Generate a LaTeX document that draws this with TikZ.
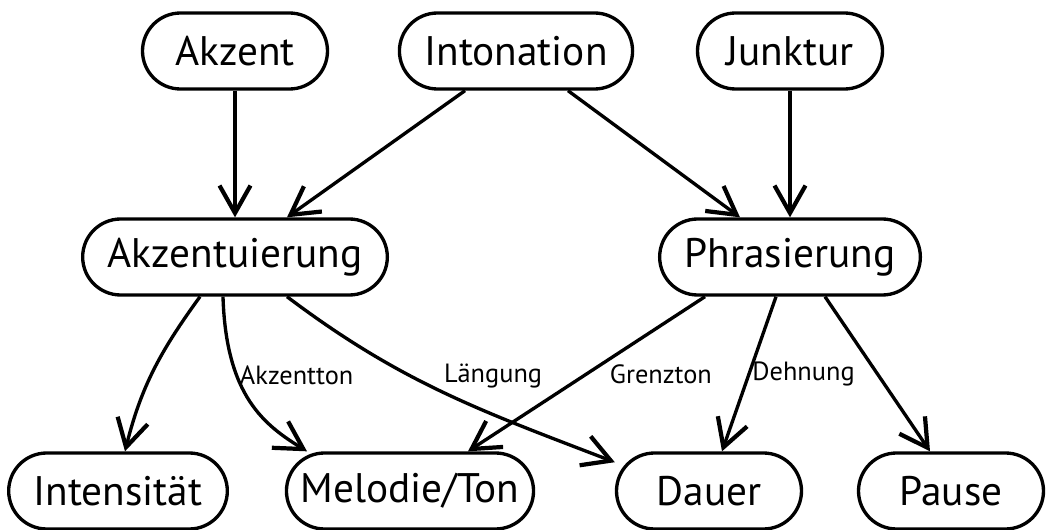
\documentclass[tikz,border=0pt]{standalone}
\usepackage{fontspec}
\setmainfont{PT Sans}
\usetikzlibrary{arrows.meta}
\begin{document}
\begin{tikzpicture}[phon/.style={draw,line width=1.9pt,rounded corners=0.76cm,minimum height=1.52cm,minimum width=3.7cm,inner xsep=0.5cm,font=\fontsize{23.5}{28}\selectfont},
	rel/.style={-{Straight Barb[length=0.55cm,width=0.62cm,line width=2.4pt]},line width=1.9pt},
	lbl/.style={font=\fontsize{15}{18}\selectfont,inner sep=1pt}]
	\useasboundingbox (0,0) rectangle (20.92,-10.6);
	\node[phon] (akzent) at (4.70,-1.02) {Akzent};
	\node[phon] (intonation) at (10.32,-1.02) {Intonation};
	\node[phon] (junktur) at (15.80,-1.02) {Junktur};
	\node[phon] (akzentuierung) at (4.70,-5.14) {Akzentuierung};
	\node[phon] (phrasierung) at (15.80,-5.14) {Phrasierung};
	\node[phon] (intensitaet) at (2.36,-9.82) {Intensität};
	\node[phon,inner xsep=0.28cm] (melodie) at (8.20,-9.82) {Melodie/Ton};
	\node[phon] (dauer) at (14.18,-9.82) {Dauer};
	\node[phon] (pause) at (19.02,-9.82) {Pause};
	\draw[rel] (akzent) -- (akzentuierung);
	\draw[rel] ([xshift=-1.02cm]intonation.south) -- ([xshift=1.04cm]akzentuierung.north);
	\draw[rel] ([xshift=1.04cm]intonation.south) -- ([xshift=-1.0cm]phrasierung.north);
	\draw[rel] (junktur) -- (phrasierung);
	\draw[rel] ([xshift=-0.7cm]akzentuierung.south) to[out=-126,in=76] ([xshift=0.14cm]intensitaet.north);
	\draw[rel] ([xshift=-0.24cm]akzentuierung.south) .. controls +(0.06,-2.0) and +(-0.84,0.52) .. ([xshift=-2.06cm]melodie.north)
		node[lbl,pos=0.33,anchor=west] {Akzentton};
	\draw[rel] ([xshift=1.04cm]akzentuierung.south) to[out=-37,in=159] node[lbl,pos=0.49,anchor=south west] {Längung} (dauer.163);
	\draw[rel] ([xshift=-1.7cm]phrasierung.south) -- node[lbl,pos=0.5,anchor=west,xshift=0.4cm] {Grenzton} ([xshift=1.16cm]melodie.north);
	\draw[rel] ([xshift=-0.28cm]phrasierung.south) -- node[lbl,pos=0.5,anchor=west] {Dehnung} ([xshift=0.26cm]dauer.north);
	\draw[rel] ([xshift=0.7cm]phrasierung.south) -- ([xshift=-0.42cm]pause.north);
\end{tikzpicture}
\end{document}
